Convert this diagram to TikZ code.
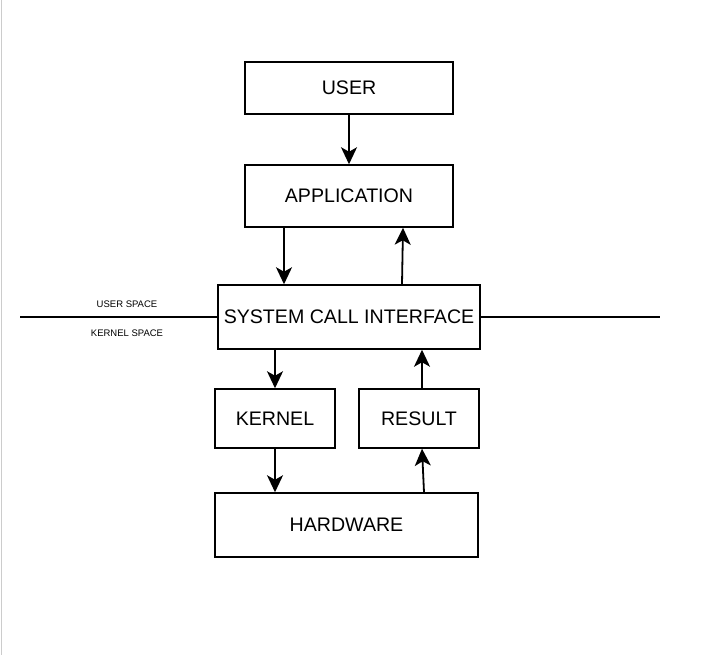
\documentclass[tikz,border=0pt]{standalone}
\usepackage{fontspec}
\setmainfont{Liberation Sans}
\usetikzlibrary{arrows.meta}
\begin{document}
\begin{tikzpicture}[x=1pt,y=-1pt,
  box/.style={draw, line width=1.5pt, inner sep=0pt, font=\fontsize{19.6}{22}\selectfont},
  arr/.style={line width=1.8pt, -{Stealth[length=17pt,width=16pt,inset=4.5pt]}},
  sep/.style={line width=1.3pt},
  small/.style={font=\fontsize{9.5}{11}\selectfont}]
\useasboundingbox (0,0) rectangle (701,655);
\fill[white] (0,0) rectangle (701,655);
\draw[gray!40, line width=1pt] (1,0) -- (1,655);
\node[box, minimum width=208pt, minimum height=52pt] (user) at (349,88) {USER};
\node[box, minimum width=208pt, minimum height=62pt] (app) at (349,196) {APPLICATION};
\node[box, minimum width=262pt, minimum height=64pt] (sci) at (349,317) {SYSTEM CALL INTERFACE};
\node[box, minimum width=120pt, minimum height=59pt] (kernel) at (275,418.5) {KERNEL};
\node[box, minimum width=120pt, minimum height=59pt] (result) at (419,418.5) {RESULT};
\node[box, minimum width=263pt, minimum height=64pt] (hw) at (346.5,525) {HARDWARE};
\coordinate (lend) at (20,317);
\coordinate (rend) at (660,317);
\draw[sep] (lend) -- (sci.west);
\draw[sep] (sci.east) -- (rend);
\node[small] (us) at (127,304) {USER SPACE};
\node[small] (ks) at (127,333) {KERNEL SPACE};
\draw[arr] (user.south) -- (app.north);
\draw[arr] ([xshift=-65]app.south) -- ([xshift=-65]sci.north);
\draw[arr] ([xshift=53]sci.north) -- ([xshift=54]app.south);
\draw[arr] (sci.south -| kernel.north) -- (kernel.north);
\draw[arr] (kernel.south) -- (kernel.south |- hw.north);
\draw[arr] ([xshift=77.5]hw.north) -- ([xshift=3]result.south);
\draw[arr] ([xshift=3]result.north) -- ([xshift=73]sci.south);
\end{tikzpicture}
\end{document}
